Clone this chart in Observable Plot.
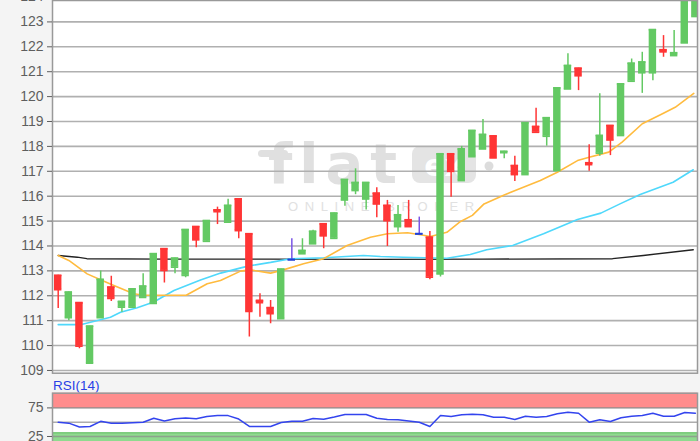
<!DOCTYPE html>
<html><head><meta charset="utf-8">
<script src="https://cdn.jsdelivr.net/npm/d3@7"></script>
<script src="https://cdn.jsdelivr.net/npm/@observablehq/plot@0.6"></script>
<style>
html,body{margin:0;padding:0;background:#f4f4f4;overflow:hidden;width:700px;height:441px;}
#wrap{position:relative;width:700px;height:441px;font-family:"Liberation Sans",Arial,sans-serif;}
.abs{position:absolute;left:0;}
</style></head><body>
<div id="wrap">
  <div class="abs" style="left:52px;top:0;width:645px;height:373px;background:#fff"></div>
  <svg class="abs" style="top:0" width="700" height="373">
    <rect x="258" y="150" width="30" height="7" rx="3.5" fill="#e0e0e0"></rect>
    <text x="268" y="183" font-size="56" font-weight="bold" font-family="DejaVu Sans" fill="#e0e0e0" letter-spacing="7">flat</text>
    <rect x="412" y="146" width="64" height="37" rx="8" fill="#e4e4e4"></rect>
    <text x="444" y="176" font-size="30" font-weight="bold" font-family="DejaVu Sans" fill="#ffffff" text-anchor="middle">ex</text>
    <circle cx="489" cy="166" r="4.5" fill="#dcdcdc"></circle>
    <text x="288" y="211" font-size="13" font-family="Liberation Sans, Arial, sans-serif" fill="#e1e1e1" letter-spacing="6.6">ONLINE BROKER</text>
  </svg>
  <div id="main" class="abs" style="top:0"></div>
  <div class="abs" style="left:53px;top:378px;font-size:13.5px;color:#2a3fe6;line-height:16px">RSI(14)</div>
  <div id="rsi" class="abs" style="top:392px"></div>
</div>
<script>
// ---- data ----
const open  = [112.82,111.12,111.72,109.30,111.12,112.35,111.54,111.54,111.94,111.70,
               113.89,113.15,112.82,114.78,114.19,115.45,114.96,115.89,114.49,111.81,
               111.52,111.08,113.45,113.69,114.09,114.89,114.31,115.85,116.23,115.89,
               116.12,115.63,114.78,115.05,114.49,114.35,112.88,117.70,116.63,117.59,
               117.90,118.42,117.75,117.23,116.87,118.80,118.41,117.03,120.31,121.14,
               117.34,117.73,118.84,118.44,120.62,120.96,120.96,121.88,121.65,122.16,
               123.22];
const high  = [112.82,112.15,111.72,110.78,112.99,112.78,111.77,112.28,112.88,113.69,
               113.89,113.51,114.66,114.78,115.02,115.56,115.88,115.89,114.49,112.08,
               111.81,113.07,114.29,114.29,114.63,114.89,115.32,116.67,117.10,116.55,
               116.34,115.83,115.63,115.83,115.16,114.58,117.70,117.70,118.00,118.64,
               119.08,118.42,117.80,117.60,118.95,119.53,119.15,120.35,121.72,121.14,
               118.07,120.11,118.84,120.51,121.51,121.78,122.69,122.45,122.65,124.30,
               124.40];
const low   = [111.49,111.00,109.87,109.30,111.12,111.77,111.34,111.54,111.94,111.70,
               112.51,112.88,112.72,113.93,114.19,114.86,114.96,114.29,110.34,111.14,
               110.88,111.08,113.45,113.69,114.09,113.89,114.31,115.60,116.06,115.45,
               115.13,113.98,114.55,114.78,114.49,112.64,112.75,115.96,116.63,117.59,
               117.90,117.54,117.50,116.59,116.87,118.57,118.01,117.03,120.31,120.24,
               117.00,117.60,117.63,118.44,120.62,120.13,120.64,121.58,121.65,122.16,
               123.22];
const close = [112.25,112.15,109.98,110.78,112.66,111.90,111.77,112.28,112.39,113.69,
               113.02,113.51,114.66,114.25,115.02,115.38,115.63,114.62,111.37,111.73,
               111.28,113.07,113.45,113.82,114.59,114.41,115.32,116.67,116.55,116.55,
               115.69,115.02,115.25,114.78,114.49,112.75,117.70,117.00,117.90,118.64,
               118.48,117.54,117.80,116.87,118.95,118.57,119.15,120.35,121.25,120.84,
               117.27,118.44,118.26,120.51,121.34,121.39,122.69,121.80,121.76,124.30,
               124.40];

// moving averages: position in candle index units, value
const maOrangeIdx = [0,1,2.73,3.98,5.24,7.12,8.06,12.05,14.03,15.28,17.17,18.1,20,21.2,23.1,25,27.2,29.4,31,32.9,34.1,35.05,36.6,37.8,39,40.1,42,43.8,45.4,47,48.9,50,51.85,53.1,55,56.9,58.1,59.85];
const maOrangeVal = [113.62,113.42,112.88,112.64,112.41,112.08,112.02,112.02,112.48,112.61,112.99,113.04,112.91,113.04,113.29,113.49,114.02,114.35,114.49,114.53,114.45,114.38,114.55,114.96,115.23,115.69,116.05,116.36,116.63,116.96,117.43,117.56,117.77,118.17,118.91,119.31,119.57,120.13];
const maCyanIdx = [0,2.1,3.04,4.92,5.87,7.44,9,10.9,13.4,15.3,17.2,18.1,20,21.9,25,28.75,30.35,32.5,36.6,38.8,40.35,42.8,45.7,48.9,51.1,52.9,54.8,57.9,59.8];
const maCyanVal = [110.84,110.84,110.94,111.14,111.34,111.52,111.75,112.21,112.63,112.91,113.12,113.21,113.34,113.49,113.53,113.62,113.58,113.55,113.51,113.66,113.85,114.02,114.49,115.06,115.32,115.69,116.07,116.56,117.06];
const maBlackIdx = [0,1.8,2.7,10,20,30,40,52.2,55.1,59.8];
const maBlackVal = [113.62,113.55,113.49,113.47,113.47,113.46,113.47,113.49,113.62,113.85];

const rsi = [50,48.3,41.5,42.5,51.5,48.3,48.3,49,50,57,
             52,56,57.5,56,60,61.5,61.5,55.5,42.5,42.5,
             42.5,49.5,51.8,51.8,56.5,55,59,63.5,63.5,63.5,
             57,54.7,54.2,52,50,42.5,61.7,60,62.9,64,
             62.9,58.7,58.7,54.7,60.5,58.7,60,64.7,67.5,65.7,
             50,54.2,51.2,57.7,60.5,61.7,65.7,60.5,60.5,67,65.7];

const priceTicks = d3.range(109, 125);
const rsiTicks = [25, 75];
const rsiGrid = [25, 50, 75];
const rsiZones = [{name: "overbought", lo: 74, hi: 100.7}, {name: "oversold", lo: 11, hi: 31.5}];

// ---- derived ----
const n = open.length;
const xDomain = [-0.537, n - 1 + 0.2];
const candles = open.map((o, i) => ({i, o, h: high[i], l: low[i], c: close[i],
  dir: close[i] > o ? "up" : close[i] < o ? "down" : "flat"}));
const bodyColor = {up: "#63c963", down: "#ff3535", flat: "#2040d8"};
const wickColor = {up: "#63c963", down: "#ff3535", flat: "#7a55e6"};
const ln = (xs, ys) => xs.map((x, k) => ({x, y: ys[k]}));
const half = 0.35;
const font = "Liberation Sans, Arial, sans-serif";

const main = Plot.plot({
  width: 700, height: 374,
  marginLeft: 52, marginRight: 3, marginTop: 0, marginBottom: 1.3,
  style: {background: "transparent", fontFamily: font, fontSize: "14px", color: "#5e5e5e", overflow: "visible"},
  x: {domain: xDomain, axis: null},
  y: {domain: [108.89, 123.86], axis: null},
  color: {type: "identity"},
  marks: [
    Plot.ruleY(priceTicks, {stroke: "#b0b0b0", strokeWidth: 1.6, clip: true}),
    Plot.line(ln(maBlackIdx, maBlackVal), {x: "x", y: "y", stroke: "#222", strokeWidth: 1.4, clip: true}),
    Plot.line(ln(maCyanIdx, maCyanVal), {x: "x", y: "y", stroke: "#4fd8fb", strokeWidth: 1.6, clip: true}),
    Plot.line(ln(maOrangeIdx, maOrangeVal), {x: "x", y: "y", stroke: "#ffbb3e", strokeWidth: 1.6, clip: true}),
    Plot.ruleX(candles, {x: "i", y1: "l", y2: "h", stroke: d => wickColor[d.dir], strokeWidth: 1.5, clip: true}),
    Plot.rect(candles, {x1: d => d.i - half, x2: d => d.i + half, y1: "o", y2: "c", fill: d => bodyColor[d.dir], clip: true}),
    Plot.ruleY(candles, {y: "c", x1: d => d.i - half, x2: d => d.i + half, stroke: d => bodyColor[d.dir], strokeWidth: 1.8, clip: true}),
    Plot.ruleY(candles, {y: "o", x1: d => d.i - half, x2: d => d.i + half, stroke: d => bodyColor[d.dir], strokeWidth: 1.8, clip: true}),
    Plot.frame({stroke: "#999", strokeWidth: 1.5}),
    Plot.axisY(priceTicks, {tickSize: 5, tickPadding: 4, fontSize: 14})
  ]
});
document.getElementById("main").appendChild(main);

const rsiPlot = Plot.plot({
  width: 700, height: 52,
  marginLeft: 52, marginRight: 3, marginTop: 0.7, marginBottom: 0,
  style: {background: "transparent", fontFamily: font, fontSize: "14px", color: "#5e5e5e", overflow: "visible"},
  x: {domain: xDomain, axis: null},
  y: {domain: [11, 100.7], axis: null},
  color: {type: "identity"},
  marks: [
    Plot.rect([{lo: 11, hi: 100.7}], {x1: () => xDomain[0], x2: () => xDomain[1], y1: "lo", y2: "hi", fill: "#ffffff"}),
    Plot.rect(rsiZones, {x1: () => xDomain[0], x2: () => xDomain[1], y1: "lo", y2: "hi",
      fill: d => d.name === "overbought" ? "#ff8d8d" : "#8fda8f"}),
    Plot.ruleY(rsiZones.filter(d => d.name === "oversold"), {y: "hi", stroke: "#70c470", strokeWidth: 1.2}),
    Plot.ruleY(rsiGrid, {stroke: "#8a8a8a", strokeOpacity: 0.7, strokeWidth: 1.6}),
    Plot.line(rsi, {x: (d, i) => i, y: d => d, stroke: "#3344ee", strokeWidth: 1.5, clip: true}),
    Plot.frame({stroke: "#999", strokeWidth: 1.5}),
    Plot.axisY(rsiTicks, {tickSize: 5, tickPadding: 4, fontSize: 14})
  ]
});
document.getElementById("rsi").appendChild(rsiPlot);
</script>
</body></html>
